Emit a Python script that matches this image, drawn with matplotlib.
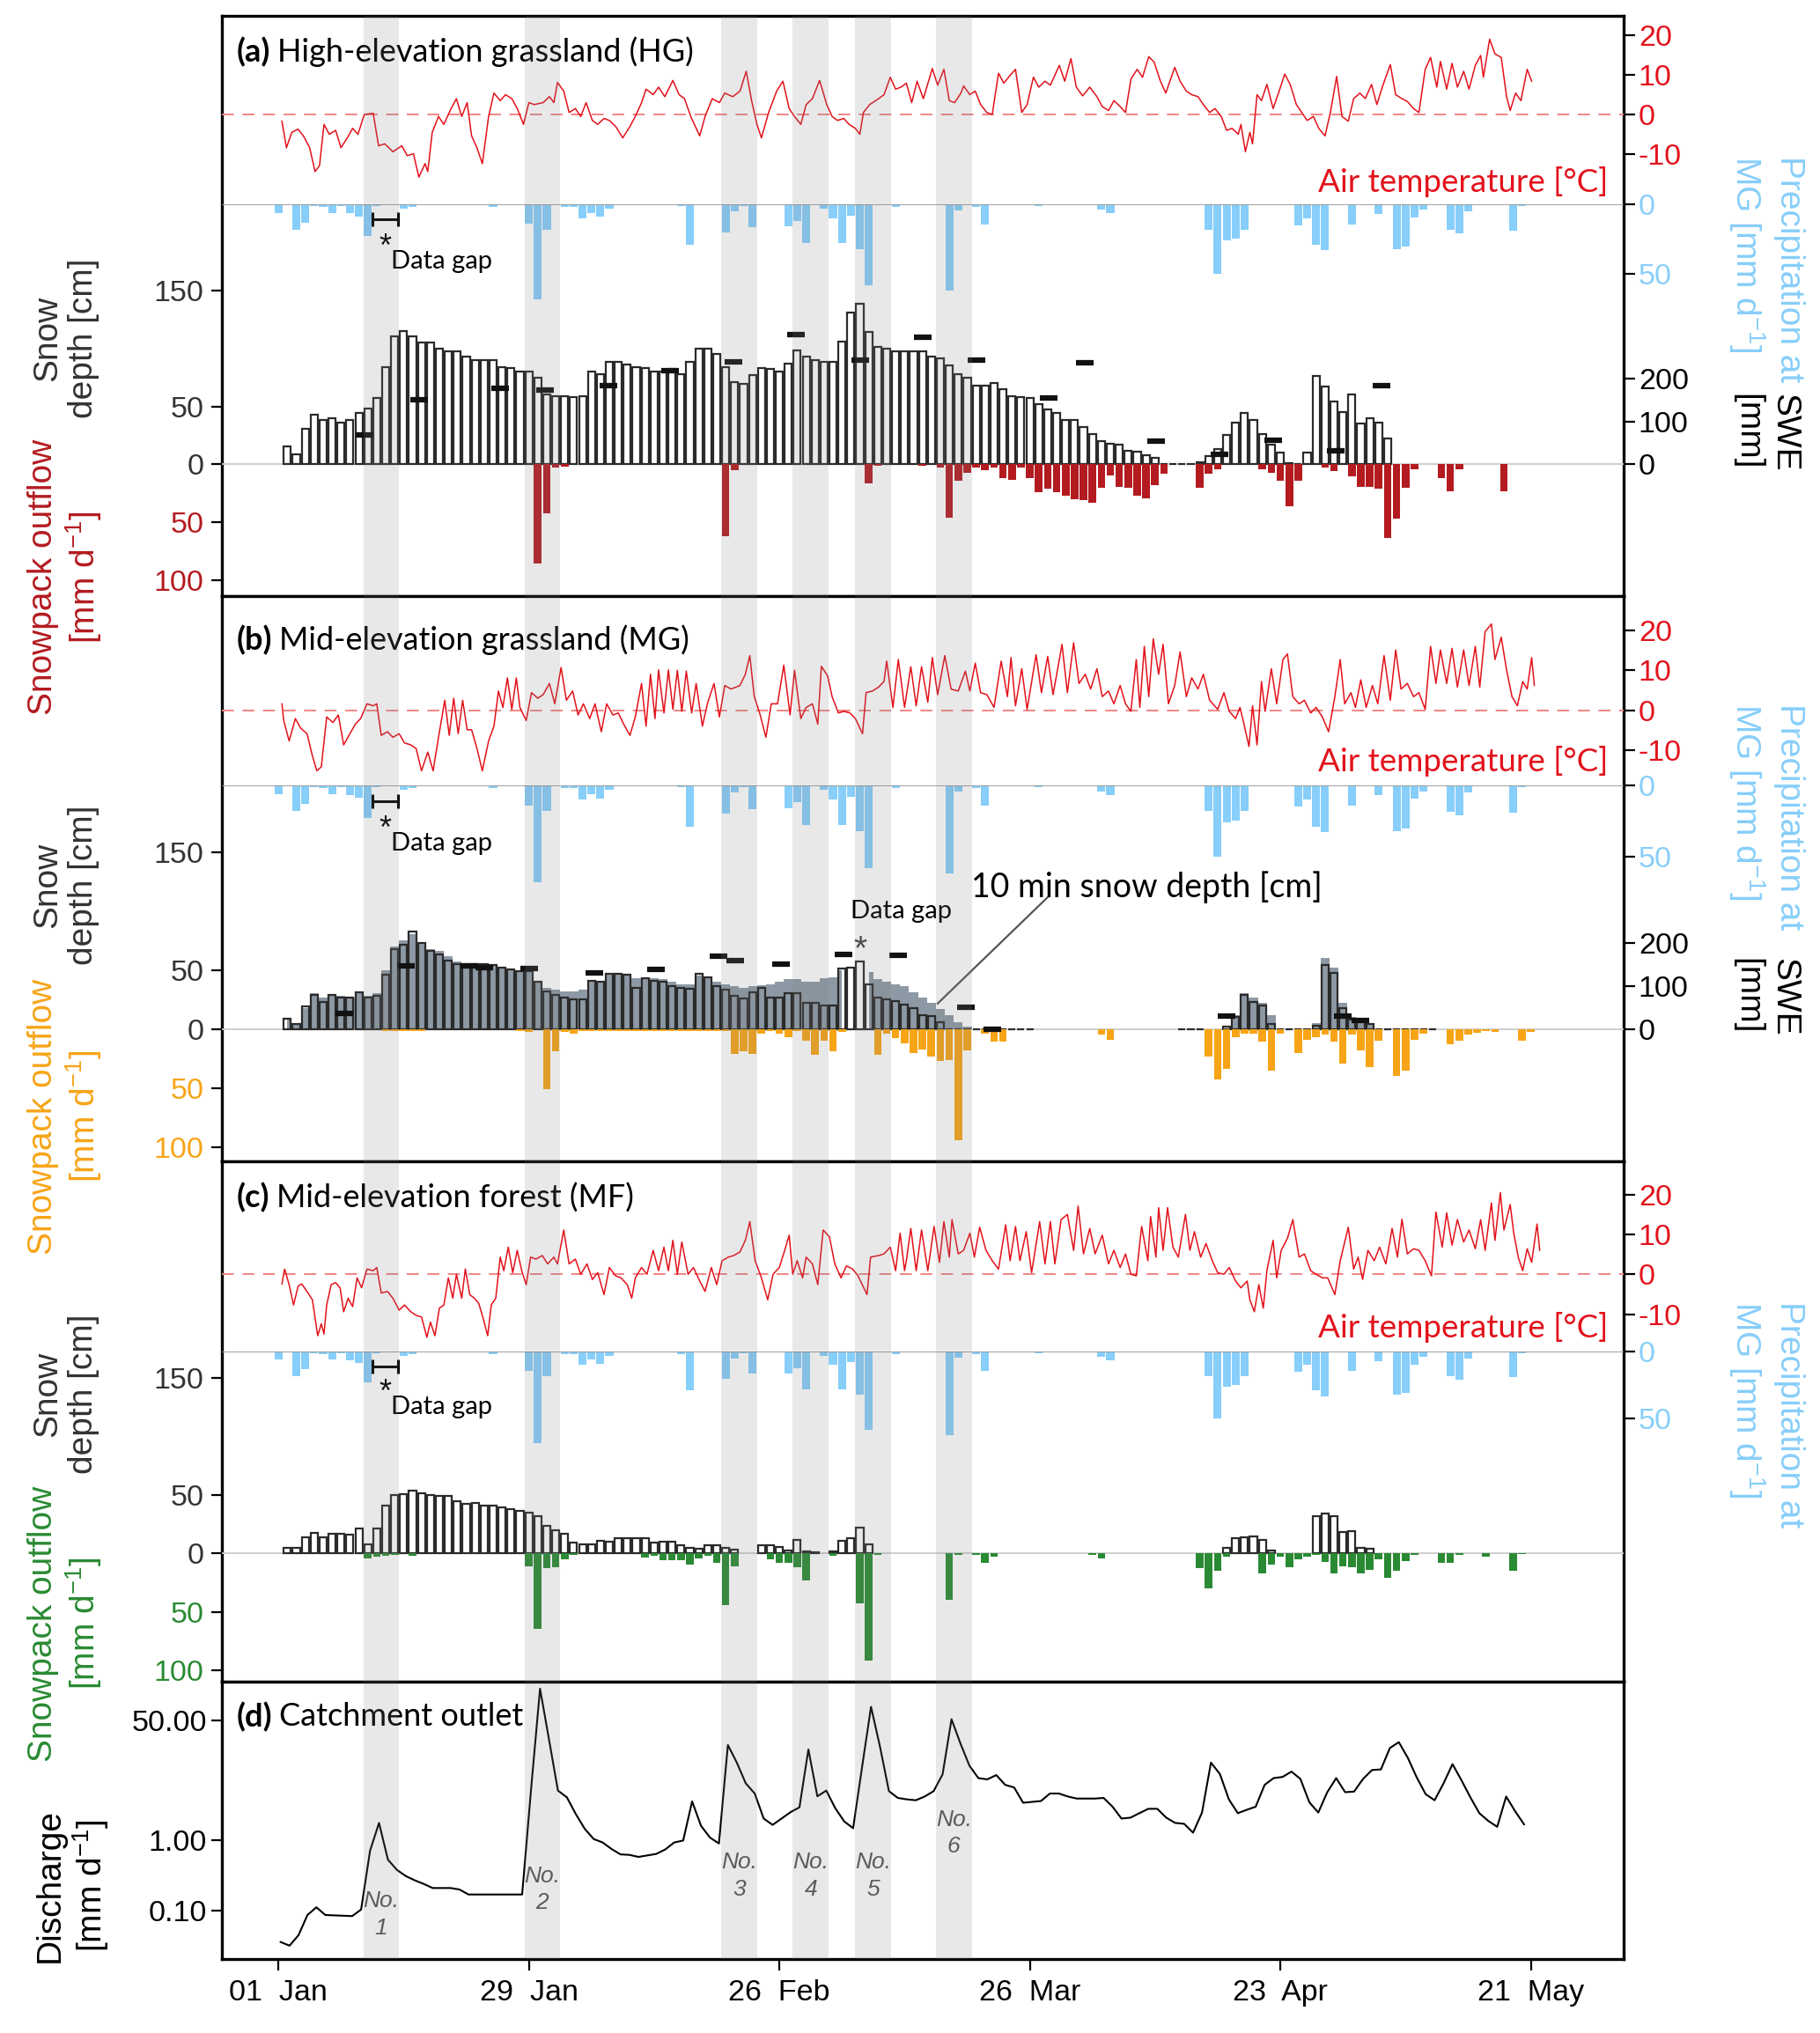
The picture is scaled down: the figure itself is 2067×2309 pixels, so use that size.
import numpy as np
import matplotlib
matplotlib.use("Agg")
import matplotlib.pyplot as plt

nan = float("nan")

# ---------------- data (day 0 = 01 Jan) ----------------
date_ticks = [0, 28, 56, 84, 112, 140]
date_labels = ["01  Jan", "29  Jan", "26  Feb", "26  Mar", "23  Apr", "21  May"]

event_start = [9.5, 27.5, 49.5, 57.5, 64.5, 73.5]
event_days = 4
event_names = ["No.\n1", "No.\n2", "No.\n3", "No.\n4", "No.\n5", "No.\n6"]
event_label_q = [0.088, 0.2, 0.31, 0.31, 0.31, 1.26]

# daily precipitation at MG [mm/d], first value = 31 Dec
precip_mg = [6, 0, 18, 13, 1, 2, 6, 1, 6.5, 8.5,
             23, 1, nan, nan, 3, 2, 0, 0, 0, 0,
             0, 0, 0, 0, 2, 0, 0, 0, 14, 68,
             18, 0, 2, 2, 10, 6, 9, 3, 0, 0,
             0, 0, 0, 0, 0, 1.5, 29, 0, 0, 0,
             20, 5, 1, 16.5, 0, 0, 0, 16, 12, 28,
             0, 3, 10, 28, 8, 32, 58, 0, 0, 2,
             0, 0, 0, 0, 0, 62, 4.5, 0, 2, 14.5,
             0, 0, 0, 0, 0, 1, 0, 0, 0, 0,
             0, 0, 4, 6.5, 0, 0, 0, 0, 0, 0,
             0, 0, 0, 0, 18, 50, 26, 24.5, 18, 0,
             0, 0, 0, 0, 15, 10, 29, 33, 0, 0,
             14.5, 0, 0, 7, 0, 32, 30.5, 9.5, 4, 0,
             0, 18.5, 21, 5, 0, 0, 0, 0, 19, 1]

# ---- (a) HG ----
temp_a_day = [0.4, 0.9, 1.5, 2.2, 2.8, 3.5, 4.1, 4.6, 5.1, 5.7, 6.4, 7.0, 7.7, 8.3, 8.9, 9.6, 10.6, 11.2, 11.9, 12.8,
              13.8, 14.4, 15.1, 15.7, 16.4, 16.7, 17.2, 17.9, 18.5, 19.2, 19.9, 20.5, 21.1, 21.6, 22.2, 22.8, 23.5, 24.1, 24.8, 25.4,
              26.1, 26.7, 27.4, 28.0, 28.6, 29.6, 30.3, 30.8, 31.2, 31.9, 32.5, 33.2, 33.8, 34.4, 35.1, 35.7, 36.4, 37.0, 37.7, 38.5,
              39.3, 39.9, 40.6, 41.1, 41.9, 42.5, 43.2, 44.1, 44.8, 45.4, 46.1, 47.1, 47.7, 48.5, 49.3, 49.9, 50.8, 51.6, 52.3, 52.9,
              53.5, 54.0, 54.8, 55.7, 56.4, 57.1, 57.7, 58.4, 59.0, 59.7, 60.5, 61.3, 61.9, 62.5, 63.2, 63.8, 64.5, 65.0, 65.4, 66.1,
              67.1, 67.7, 68.4, 69.0, 69.6, 70.2, 70.8, 71.4, 72.1, 73.1, 73.7, 74.4, 75.0, 75.6, 76.3, 76.6, 77.3, 77.9, 78.5, 79.2,
              79.8, 80.5, 81.1, 81.8, 82.4, 83.1, 83.7, 84.4, 85.0, 85.7, 86.3, 87.3, 87.9, 88.6, 89.2, 89.9, 90.7, 91.5, 92.1, 92.8,
              93.4, 94.1, 94.7, 95.3, 96.0, 96.6, 97.3, 97.9, 98.6, 99.2, 100.2, 100.8, 101.5, 102.1, 102.8, 103.4, 104.1, 104.7, 105.4, 106.0,
              106.6, 107.3, 107.6, 108.1, 108.6, 108.9, 109.4, 109.9, 110.5, 111.2, 111.8, 112.5, 113.1, 113.8, 114.4, 115.0, 115.7, 116.3, 117.0, 117.6,
              118.3, 118.9, 119.6, 120.2, 120.9, 121.5, 122.2, 122.8, 123.4, 124.3, 124.9, 125.6, 126.2, 126.9, 127.5, 128.2, 128.8, 129.5, 129.9, 130.6,
              131.2, 131.8, 132.5, 133.1, 133.8, 134.4, 134.7, 135.4, 136.0, 136.7, 137.3, 137.7, 138.3, 138.9, 139.6, 140.1]
temp_a = [-1.7, -8.4, -4.5, -3.7, -5.4, -8.4, -14.4, -12.9, -2.5, -5, -4, -8.4, -5.9, -3.5, -5, 0, 0.3, -7.9, -7.4, -9.4,
          -7.9, -10.4, -9.9, -15.8, -12.4, -14.4, -4.5, -0.5, -2.5, 1, 4, -0.5, 3, -5.4, -8.4, -12.4, -0.5, 5.4, 3.5, 5,
          4, 1.5, -2.5, 3, 2.5, 3, 4.5, 3, 8.1, 5.9, 0.5, 1.5, -0.5, 3, -1.5, -2.5, -1, -1.5, -3, -5.9,
          -3, -0.5, 3, 6.4, 5, 6.9, 4.5, 8.6, 5, 4, -0.5, -5.4, -0.5, 4, 3, 5.4, 4.5, 5.9, 10.9, 3.5,
          -2.5, -5.9, 0.5, 5.9, 8.4, 1.5, -0.5, -2.5, 2.5, 4, 8.6, 2.5, -0.5, -1.5, -1, -2.5, -3.5, -5, 0.5, 2.5,
          4, 5, 9.4, 6.4, 6.9, 7.9, 3, 8.4, 4, 11.6, 7.4, 11.4, 3.5, 3, 5.4, 7.2, 5, 5.9, 2.5, 0.5,
          0, 10.4, 7.9, 9.9, 11.4, 0.5, 2.5, 9.4, 6.9, 8.4, 7.4, 12.4, 8.4, 14.1, 6.9, 4.7, 6.9, 4.5, 2, 1,
          3.5, 2, 0.5, 8.9, 11.4, 9.4, 14.6, 13.2, 8.4, 5.4, 11.9, 8.4, 5.9, 5, 4.5, 2.5, 0.5, 1.5, -0.5, -4,
          -3.5, -5, -2.5, -9.4, -4.5, -7.4, 5, 3.5, 7.6, 1.5, 5.4, 10.2, 7.6, 2.5, 0.5, -1.5, -0.5, -3.5, -5.4, 0.5,
          9.6, -0.5, -1.7, 4, 5.4, 4, 7.6, 2.5, 6.9, 12.6, 5, 4, 3.3, 1.5, 0.5, 11.4, 14.4, 6.9, 13.4, 6.4,
          12.9, 6.9, 10.9, 6.4, 12.4, 14.9, 9.4, 19, 15.3, 14.4, 4.5, 1, 5.4, 3.5, 11.4, 8.4]

snow_a = [15.7, 9, 31, 43, 38.5, 40, 36, 38, 44.5, 48,
          57, 84, 110, 115, 110, 105, 105, 99.5, 97.5, 97.5,
          93, 90, 90, 90, 84, 83, 80, 80, 75, 60,
          59, 59, 58, 59, 80, 78, 88, 88, 86, 84,
          83, 80, 80, 82, 78, 88, 100, 100, 95, 84,
          71, 69, 77, 83, 82, 80, 87, 98, 93, 90,
          88, 88, 106, 131, 138, 114, 101, 100, 97, 97,
          97, 97, 93, 91, 85, 78, 75, 68, 68, 70,
          65, 59, 58, 57, 52, 47, 44, 38, 38, 32,
          26, 20, 18, 17, 12, 11, 8, 6, 0, 0,
          0, 0, 1.5, 7, 13, 25, 36, 44, 38, 26,
          17, 10, 1, 0, 10, 76, 67, 54, 45, 60,
          35, 40, 36, 22]

out_a_day = [28, 29, 30, 31, 49, 50, 65, 66, 71, 73, 74, 75, 76, 77, 78, 79, 80, 81, 82, 83,
             84, 85, 86, 87, 88, 89, 90, 91, 92, 93, 94, 95, 96, 97, 98, 102, 103, 104, 109, 110,
             111, 112, 113, 116, 117, 119, 120, 121, 122, 123, 124, 125, 126, 129, 130, 131, 136]
out_a = [85, 42, 3, 2, 62, 5, 16, 1, 1, 3, 46, 14, 7, 3, 5, 3, 12, 13, 3, 12,
         24, 21, 24, 27, 30, 30.5, 33, 20, 9.5, 19, 20, 27, 29, 18, 8, 20, 8, 4, 4, 7,
         14, 36, 14, 3, 6, 10, 19, 19, 21, 63, 47, 20, 4, 12, 23, 4, 23]

swe_a_day = [9.6, 15.7, 24.8, 29.8, 36.9, 43.8, 50.9, 57.9, 65.0, 72.0, 78.0, 86.1, 90.1, 98.1, 105.2, 111.2, 118.2, 123.3]
swe_a = [68, 151, 177, 174, 183, 218, 239, 303, 242, 296, 242, 155, 237, 55, 24, 57, 32, 183]

# ---- (b) MG ----
temp_b_day = [0.4, 0.6, 1.2, 1.9, 2.5, 3.2, 3.8, 4.3, 4.8, 5.4, 6.1, 6.7, 7.3, 8.0, 8.6, 9.2, 9.9, 10.6, 11.0, 11.5,
              12.2, 12.8, 13.5, 14.1, 14.8, 15.4, 16.0, 16.7, 17.3, 17.9, 18.6, 19.1, 19.6, 20.1, 20.6, 21.1, 21.6, 22.2, 22.8, 23.5,
              24.1, 24.6, 25.1, 25.6, 26.1, 26.6, 27.0, 27.7, 28.3, 29.0, 29.6, 30.3, 30.9, 31.6, 32.2, 32.9, 33.5, 34.1, 34.8, 35.4,
              36.1, 36.7, 37.4, 38.0, 38.6, 39.3, 39.9, 40.6, 41.1, 41.6, 42.1, 42.5, 43.1, 43.6, 44.1, 44.6, 45.1, 45.6, 46.2, 46.7,
              47.4, 48.0, 48.7, 49.3, 49.9, 50.6, 51.6, 52.2, 52.7, 53.2, 53.8, 54.5, 55.1, 55.8, 56.5, 57.2, 57.7, 58.4, 59.0, 59.7,
              60.3, 60.7, 61.4, 61.9, 62.6, 63.2, 63.9, 64.5, 65.3, 65.7, 66.4, 67.1, 67.7, 68.0, 68.7, 69.3, 70.0, 70.7, 71.3, 71.9,
              72.6, 73.1, 73.7, 74.5, 75.2, 76.0, 76.8, 77.3, 77.9, 78.5, 79.2, 80.0, 80.8, 81.5, 81.9, 82.4, 83.1, 83.7, 84.7, 85.3,
              86.0, 86.6, 87.6, 88.2, 88.9, 89.5, 90.2, 90.8, 91.5, 92.1, 92.8, 93.4, 94.1, 94.7, 95.3, 95.9, 96.3, 96.8, 97.3, 97.8,
              98.4, 98.9, 99.5, 100.2, 100.8, 101.5, 102.1, 102.8, 103.4, 104.1, 105.0, 105.7, 106.3, 107.0, 107.5, 107.9, 108.5, 108.9, 109.4, 109.9,
              110.3, 111.0, 111.6, 112.3, 112.8, 113.4, 114.1, 114.7, 115.4, 116.0, 116.7, 117.4, 118.1, 118.7, 119.2, 119.9, 120.4, 121.0, 121.6, 122.3,
              122.9, 123.6, 124.3, 124.9, 125.5, 126.2, 126.9, 127.5, 128.2, 128.8, 129.4, 129.9, 130.6, 131.2, 131.8, 132.5, 133.1, 133.8, 134.3, 134.9,
              135.6, 136.0, 136.7, 137.3, 137.9, 138.5, 139.1, 139.6, 140.1, 140.4]
temp_b = [1.6, -2.6, -7.7, -2.1, -4.5, -5.9, -11.4, -15.2, -14.2, -1.7, -3.1, -1.2, -8.7, -5.9, -3.5, -2.1, 1.6, 1.1, 1.6, -6.3,
          -5.4, -6.8, -5.9, -8.2, -8.7, -9.6, -15.2, -10.5, -15.2, -6.8, 2.5, -6.3, 3, -5.9, 2.5, -4.9, -4.9, -9.6, -15.2, -7.7,
          -4, 4.8, 0.7, 8.1, 0.2, 8.1, 0.7, -2.6, 4.4, 3, 3.9, 6.7, 1.6, 10.7, 2.5, 4.8, -1.2, 1.6, -2.1, 1.6,
          -5.4, 1.6, -1.2, -0.7, -3.5, -6.3, -1.7, 6.7, -4, 9, -2.1, 10.1, -0.7, 10.1, 0.2, 10, -0.3, 9.8, -0.7, 6.7,
          -4, 2, 6.7, -1.7, 6.2, 5.3, 6.2, 9, 13.7, 3.4, -0.7, -6.8, 1.6, 1.6, 11.3, -1.2, 10, -2.1, 0.7, 1.6,
          -3.5, 11, 8.6, 3.4, -0.7, -0.3, -0.7, -2.1, -5.9, 4.4, 4.8, 5.8, 7.2, 12.3, 0.7, 12.7, 0.7, 10.9, 1.1, 10.9,
          2, 13.2, 3.9, 13.7, 5.3, 4.8, 9.8, 4.8, 11.8, 4.4, 3.9, 0.7, 12.3, 3.4, 13.2, 1.1, 10.4, 0.2, 13.9, 4.4,
          13.5, 3.9, 16.5, 4.4, 16.9, 6.7, 9, 5.3, 10.4, 3.4, 4.8, 1.6, 6.2, 1.6, -0.3, 12.7, 0.7, 16, 3.4, 17.9,
          9, 16.5, 1.6, 6.2, 14.6, 3.4, 8.1, 5.3, 9, 2.5, 0.2, 4.4, -0.3, -2.1, 0.7, -3.1, -9.1, 1.1, -8.7, 7.2,
          -0.3, 10.4, 1.6, 12.7, 14.1, 3.4, 1.6, 2.5, -0.7, 0.7, -1.7, -5.4, 3.4, 12.7, 1.6, 4.4, 0.7, 7.6, 0.7, 6.2,
          1.6, 13.7, 2.5, 15.1, 5.3, 6.7, 3.4, 4.4, 0.2, 16, 6.7, 15.1, 6.7, 15.5, 5.8, 15.1, 6.2, 16, 5.8, 19.7,
          21.6, 12.7, 18.3, 10, 3.4, 1.1, 7.2, 5.3, 13.2, 6.2]

snow_b = [9, 4, 19, 29, 23, 29, 27, 27, 31, 27,
          28, 46, 68, 71, 82.5, 72.5, 66, 63, 58, 55,
          55, 55, 55, 54, 52, 50.6, 49, 49, 40, 32,
          29, 26.5, 25, 25, 41, 40, 46.5, 46.5, 46, 35,
          43.4, 41, 40, 36.6, 35, 34, 46.5, 44, 36.6, 33,
          28, 25.6, 31, 35, 27, 27, 30, 30, 22.5, 22.5,
          20, 20, 51.6, 52, 57, 38, 27, 25, 24, 21,
          18, 12, 11, 6, 0, 0, 0, 0, 0, 0,
          0, 0, 0, 0, nan, nan, nan, nan, nan, nan,
          nan, nan, nan, nan, nan, nan, nan, nan, nan, nan,
          0, 0, 0, nan, nan, 2, 10, 29, 23, 20,
          4, 0, 0, 0, 0, 3, 54, 47.5, 18, 8,
          8, 4, 0, 0, 0, 0, 0, 0, 0]

snow10_b = [8, 5, 18, 30, 27, 29, 28, 27, 30, 28,
            30, 50, 70, 75, 80, 72, 68, 66, 62, 57,
            55, 55, 55, 54, 52, 50, 50, 48, 40, 35,
            33, 32, 32, 33, 40, 40, 46, 47, 46, 43,
            44, 43, 42, 40, 38, 38, 45, 44, 40, 38,
            36, 35, 36, 37, 38, 40, 42, 42, 40, 40,
            43, 44, 50, nan, nan, 48, 42, 40, 38, 36,
            31, 27, 22, 17, 12, 6, 2, 0, 0, 0,
            0, 0, 0, 0, 0, 0, 0, 0, 0, 0,
            0, 0, 0, 0, 0, 0, 0, 0, 0, 0,
            0, 0, 0, 0, 0, 0, 12, 30, 27, 22,
            12, 0, 0, 0, 0, 5, 60, 52, 22, 10,
            8, 4, 0, 0, 0, 0, 0, 0, 0]

out_b_day = [11, 12, 13, 14, 15, 26, 27, 29, 30, 31, 32, 33, 34, 35, 36, 37, 38, 39, 40, 41,
             42, 43, 44, 45, 46, 47, 48, 49, 50, 51, 52, 53, 54, 55, 56, 57, 58, 59, 60, 61,
             62, 66, 67, 68, 69, 70, 71, 72, 73, 74, 75, 76, 78, 79, 80, 91, 92, 103, 104, 105,
             106, 107, 108, 109, 110, 111, 113, 114, 115, 116, 117, 118, 119, 120, 121, 122, 124, 125, 126, 127,
             130, 131, 132, 133, 134, 135, 138, 139]
out_b = [1.5, 1.5, 1.5, 1.5, 1.5, 2, 2.5, 51, 19, 2.5, 4, 2, 2, 2, 2, 2, 2, 2, 2, 2,
         2, 2, 2, 2, 2, 2, 2, 2, 21, 19, 21, 4, 2, 4, 7, 2, 10, 22, 10, 19,
         2.5, 22, 4, 8, 12, 20, 17, 23, 27, 26, 94, 18, 4, 11, 11, 5, 9, 23, 42.5, 34,
         7, 4, 4, 11, 35, 4, 20, 9, 7, 5, 11, 29, 5, 18, 32, 10, 40, 35, 9, 4,
         13, 10, 5, 3, 2, 2.5, 10, 2.5]

swe_b_day = [7.4, 14.3, 21.3, 23.0, 28.0, 35.3, 42.2, 49.2, 51.1, 56.2, 63.2, 69.3, 76.9, 79.8, 106.0, 119.0, 121.0]
swe_b = [36.5, 147, 147, 143, 141, 130, 139, 169, 160, 152, 174, 171, 50, 0, 30, 30, 19]

# ---- (c) MF ----
temp_c_day = [0.4, 0.7, 1.2, 1.7, 2.2, 2.6, 3.2, 3.8, 4.4, 4.8, 5.1, 5.4, 5.9, 6.4, 6.9, 7.3, 7.8, 8.3, 8.8, 9.3,
              9.9, 10.6, 11.0, 11.5, 12.2, 12.8, 13.5, 14.1, 14.8, 15.4, 16.0, 16.6, 17.0, 17.5, 18.0, 18.5, 19.0, 19.5, 19.9, 20.5,
              20.9, 21.4, 21.9, 22.4, 22.9, 23.4, 23.8, 24.3, 24.8, 25.2, 25.7, 26.2, 26.7, 27.2, 27.7, 28.2, 28.8, 29.5, 30.1, 30.8,
              31.2, 31.9, 32.5, 33.2, 33.8, 34.5, 35.1, 35.7, 36.4, 37.0, 37.7, 38.3, 39.0, 39.5, 39.9, 40.6, 41.2, 41.9, 42.5, 43.1,
              43.6, 44.1, 44.6, 45.1, 45.8, 46.4, 47.1, 47.7, 48.4, 49.0, 49.6, 50.3, 50.9, 51.6, 52.2, 52.7, 53.3, 54.0, 54.7, 55.3,
              56.0, 56.6, 57.1, 57.5, 58.0, 58.6, 59.0, 59.7, 60.3, 60.9, 61.6, 62.2, 62.9, 63.5, 64.2, 64.8, 65.8, 66.2, 67.1, 67.7,
              68.4, 69.0, 69.5, 70.0, 70.2, 70.7, 71.3, 71.9, 72.6, 73.3, 73.9, 74.4, 75.0, 75.3, 76.0, 76.6, 77.3, 77.8, 78.4, 79.1,
              79.8, 80.5, 81.3, 81.8, 82.4, 82.9, 83.6, 84.2, 85.1, 85.7, 86.3, 86.8, 87.5, 88.2, 88.9, 89.4, 90.0, 90.7, 91.3, 92.1,
              92.8, 93.4, 94.1, 94.7, 95.3, 95.9, 96.5, 97.2, 97.5, 98.1, 98.4, 98.9, 99.4, 100.0, 100.6, 101.4, 101.9, 102.4, 103.1, 103.7,
              104.4, 105.0, 105.7, 106.3, 107.0, 107.6, 108.3, 108.6, 109.1, 109.6, 110.1, 110.5, 111.2, 111.6, 112.1, 112.8, 113.4, 114.1, 114.7, 115.4,
              116.0, 116.7, 117.3, 118.1, 118.7, 119.6, 120.2, 120.7, 121.2, 121.8, 122.5, 123.1, 123.8, 124.5, 125.1, 125.6, 126.2, 126.9, 127.5, 128.2,
              128.9, 129.4, 130.1, 130.6, 131.2, 131.8, 132.5, 133.1, 133.8, 134.4, 134.9, 135.6, 136.0, 136.6, 137.0, 137.7, 138.1, 138.6, 139.1, 139.6,
              140.1, 140.7, 141.0]
temp_c = [-2.4, 1.3, -2.6, -7.7, -3, -2.4, -4.3, -6.4, -15.4, -12.4, -15, -7.7, -2.6, -2.1, -3.4, -9.4, -6, -8.1, -0.9, -3.4,
          1.3, 0.9, 1.7, -4.7, -4.3, -6, -9, -7.7, -9.4, -10.3, -10.7, -15.8, -12, -15.4, -8.5, -7.7, -0.9, -6, 0, -6,
          1.3, -5.1, -6, -7.3, -11.1, -15.4, -7.7, -6, 4.3, 0.9, 6.8, 0.4, 6, 0.9, -2.6, 4.3, 3.8, 4.7, 2.6, 4.3,
          2.6, 11.1, 2.6, 3.8, 0, 2.6, -1.3, 0.4, -5.1, 1.7, -0.4, -0.9, -2.6, -6, -0.9, 1.7, 0, 6, 0.9, 6.8,
          0.9, 8.5, 0, 8.1, 0, 1.7, -1.7, -4.3, 1.7, -2.6, 3.4, 4.3, 4.7, 5.6, 8.5, 13.2, 3.4, -0.9, -6.4, 0,
          1.7, 6, 9.8, 0, 3.4, -0.9, 4.3, 2.6, -2.6, 11.1, 9.4, 2.6, -0.9, 2.1, 1.3, -0.4, -5.1, 4.3, 4.7, 5.1,
          6.8, 0.9, 10.3, 0.9, 3.4, 11.5, 0.9, 11.1, 0.9, 12, 3, 13.2, 4.3, 13.7, 5.1, 6, 10.3, 4.3, 11.8, 6,
          3.4, 1.3, 12.4, 3.4, 12, 3.4, 10.7, 0.4, 13.2, 2.6, 13.2, 2.6, 13.7, 15, 6, 17.1, 5.1, 11.5, 5.1, 9.8,
          2.6, 6, 1.7, 5.1, 0, -0.4, 12, 3.4, 14.5, 4.3, 16.7, 6, 16.7, 6.8, 4.3, 15, 6, 10.7, 4.3, 7.7,
          3.4, 0.4, 0, 1.7, -1.7, -3.4, -1.7, -6.4, -9.4, -2.6, -8.5, 0.9, 8.5, -0.9, 6, 9, 13.7, 4.3, 5.1, 0.9,
          0, -0.9, -0.9, -5.1, 3.4, 11.8, 1.3, 4.3, -1.3, 6, 3.4, 6.8, 2.6, 11.5, 4.3, 13.8, 5.1, 6.4, 6, 3.4,
          -0.4, 15.6, 6.8, 15.4, 7.3, 13.7, 8.1, 11.1, 6.4, 13.7, 6, 17.9, 8.5, 20.5, 11.1, 17.5, 10.3, 4.3, 0.9, 6.4,
          3, 12.6, 6]

snow_c = [4.7, 4.7, 13.5, 17.5, 13.5, 17, 17, 16, 21, 8,
          21, 41, 50, 50.6, 54, 51.5, 50, 49, 49, 45,
          42, 43, 41, 41, 39, 38, 36.5, 35, 31.5, 23.7,
          20, 17, 9, 7.6, 7.6, 11, 10, 13, 13, 13,
          13, 9, 9.6, 10, 7.3, 4.7, 3.8, 6.7, 7.3, 4.4,
          2.9, nan, nan, 7.3, 6.7, 5.3, 2.3, 11.7, 1.5, 1,
          nan, 1.8, 11, 13, 22, 8, nan, nan, nan, nan,
          nan, nan, nan, nan, nan, nan, nan, nan, nan, nan,
          nan, nan, nan, nan, nan, nan, nan, nan, nan, nan,
          nan, nan, nan, nan, nan, nan, nan, nan, nan, nan,
          nan, nan, nan, nan, nan, 4.7, 13, 14, 14.6, 11.7,
          2.3, nan, nan, nan, nan, 32, 34, 32, 18, 19,
          4.7, 3.8]

out_c_day = [9, 10, 11, 12, 14, 27, 28, 29, 30, 31, 32, 40, 41, 42, 43, 44, 45, 46, 47, 48,
             49, 50, 54, 55, 56, 57, 58, 61, 64, 65, 66, 74, 75, 77, 78, 79, 90, 91, 102, 103,
             104, 105, 109, 110, 111, 112, 113, 114, 115, 116, 117, 118, 119, 120, 121, 122, 123, 124, 125, 126,
             129, 130, 131, 134, 137, 138]
out_c = [4.4, 3, 2, 1.5, 2, 11, 65, 13, 12, 5, 1.5, 3.5, 2, 6, 6, 6, 9.4, 4.4, 2, 8,
         44, 11, 5, 8, 8, 12, 23.5, 2, 43, 92, 1.5, 40, 1.5, 1, 8, 3, 1, 4.4, 13, 30,
         15, 2.6, 16.8, 10, 2.6, 11.7, 5, 2.6, 1, 7.4, 16.8, 11, 11.7, 16.8, 13.8, 5, 21, 15, 6.5, 1.5,
         8, 8, 1.5, 2.6, 14.7, 0.6]

# ---- (d) catchment outlet discharge [mm/d], daily from 01 Jan ----
q_outlet = [0.036, 0.032, 0.045, 0.087, 0.112, 0.087, 0.086, 0.085, 0.084, 0.104,
            0.71, 1.76, 0.53, 0.38, 0.31, 0.27, 0.24, 0.21, 0.21, 0.21,
            0.20, 0.17, 0.17, 0.17, 0.17, 0.17, 0.17, 0.17, 5.3, 141,
            27, 5.06, 4.06, 2.35, 1.45, 1.04, 0.93, 0.75, 0.63, 0.62,
            0.58, 0.61, 0.64, 0.74, 0.93, 0.99, 3.55, 1.6, 1.09, 0.90,
            22.4, 12.6, 6.4, 4.6, 2.03, 1.65, 2.03, 2.5, 2.93, 19.4,
            4.2, 5.06, 2.85, 1.85, 1.48, 10.9, 78, 21.3, 4.97, 3.98,
            3.8, 3.69, 4.17, 4.97, 8.6, 52, 23.5, 11.4, 7.6, 7.3,
            8.4, 6.1, 5.6, 3.4, 3.5, 3.6, 4.6, 4.6, 4.17, 3.9,
            3.9, 3.9, 3.98, 2.99, 2.03, 2.09, 2.42, 2.79, 2.79, 2.09,
            1.76, 1.71, 1.28, 2.47, 12.6, 8.7, 3.8, 2.42, 2.7, 2.99,
            6.1, 7.6, 7.9, 9.4, 7.4, 3.45, 2.47, 4.8, 7.6, 4.8,
            4.9, 7.4, 9.9, 10.1, 20.3, 24.6, 14.8, 7.8, 4.5, 3.69,
            6.4, 12.0, 7.1, 4.06, 2.42, 1.88, 1.55, 4.17, 2.58, 1.68]

# ---------------- style ----------------
RED = "#e3121b"
ZERO_RED = "#f08585"
BLUE = "#87cefa"
EDGE = "#2b2b2b"
SLATE = "#8d99a4"
DARK = "#333333"
LATO = ["Lato", "DejaVu Sans"]
plt.rcParams["font.family"] = ["Liberation Sans", "DejaVu Sans"]
TICK_FS = 24.5
LABEL_FS = 28

fig = plt.figure(figsize=(20.67, 23.09), dpi=100)

# layout measured on a 1410 x 1575 view of the reference
SW, SH = 1410.0, 1575.0


def fx(x):
    return x / SW


def fy(y):
    return 1.0 - y / SH


XL, XR = 172.0, 1258.0
XLIM = (-6.3, 150.4)


def add_ax(y_top, y_bot):
    ax = fig.add_axes([fx(XL), fy(y_bot), fx(XR) - fx(XL), fy(y_top) - fy(y_bot)])
    ax.set_xlim(*XLIM)
    ax.set_xticks([])
    return ax


def bare(ax):
    ax.patch.set_visible(False)
    for s in ax.spines.values():
        s.set_visible(False)


def yticks(ax, side, ticks, labels, colors):
    if side == "left":
        ax.yaxis.tick_left()
        pad = 6
    else:
        ax.yaxis.tick_right()
        pad = 3
    ax.set_yticks(ticks)
    ax.set_yticklabels(labels)
    ax.tick_params(axis="y", direction="out", length=9, width=1.6,
                   labelsize=TICK_FS, pad=pad, color="k")
    if isinstance(colors, str):
        colors = [colors] * len(ticks)
    for lab, c in zip(ax.get_yticklabels(), colors):
        lab.set_color(c)


def draw_panel(geo, letter, title, temp_day, temp, snow, out_day, out, out_color,
               swe_day=None, swe=None, snow10=None):
    top, sep, zero, bot = geo["top"], geo["sep"], geo["zero"], geo["bot"]

    frame = add_ax(top, bot)
    frame.set_yticks([])
    for s in frame.spines.values():
        s.set_linewidth(2.4)

    # air temperature
    axt = add_ax(top, sep)
    bare(axt)
    axt.set_ylim(-(sep - geo["tzero"]) / geo["tsc"], (geo["tzero"] - top) / geo["tsc"])
    axt.axhline(0, color=ZERO_RED, lw=1.4, ls=(0, (7, 5)))
    axt.plot(temp_day, temp, color=RED, lw=1.1)
    yticks(axt, "right", [-10, 0, 10, 20], ["-10", "0", "10", "20"], RED)

    # snow depth (up) and snowpack outflow (down)
    axs = add_ax(sep, bot)
    bare(axs)
    axs.set_ylim(-(bot - zero) / geo["ssc"], (zero - sep) / geo["ssc"])
    axs.axhline(0, color="0.8", lw=1.3, zorder=0)
    sd = np.array(snow, dtype=float)
    xs = np.arange(len(sd)) + 1
    ok = np.isfinite(sd)
    if snow10 is not None:
        s10 = np.array(snow10, dtype=float)
        axs.fill_between(np.arange(len(s10)) + 1, 0, s10, step="mid",
                         color=SLATE, lw=0, zorder=1)
        face = "none"
    else:
        face = "white"
    axs.bar(xs[ok], sd[ok], width=0.8, facecolor=face, edgecolor=EDGE, lw=1.6, zorder=2)
    axs.bar(np.array(out_day) + 1, -np.array(out), width=0.85, color=out_color, lw=0, zorder=2)
    yticks(axs, "left", [-100, -50, 0, 50, 150], ["100", "50", "0", "50", "150"],
           [out_color, out_color, DARK, DARK, DARK])

    # precipitation (hanging from the separator)
    axp = add_ax(sep, bot)
    bare(axp)
    axp.set_ylim((bot - sep) / geo["psc"], 0)
    pr = np.array(precip_mg, dtype=float)
    xp = np.arange(len(pr))
    okp = np.isfinite(pr)
    axp.bar(xp[okp], pr[okp], width=0.9, color=BLUE, lw=0)
    axp.axhline(0, color="0.6", lw=1.3)
    axp.errorbar([11.95], [11], xerr=[[1.45], [1.45]], fmt="none", ecolor="k",
                 elinewidth=2.2, capsize=6, capthick=2.2)
    axp.text(11.9, 31, "*", fontsize=26, ha="center", va="center")
    axp.text(12.6, 41, "Data gap", family=LATO, fontsize=21, va="center")
    yticks(axp, "right", [0, 50], ["0", "50"], BLUE)

    if swe is not None:
        axw = add_ax(sep, bot)
        bare(axw)
        axw.set_ylim(-(bot - zero) / geo["wsc"], (zero - sep) / geo["wsc"])
        axw.plot(swe_day, swe, ls="none", marker="_", ms=15, mew=4.5, color="#111111")
        yticks(axw, "right", [0, 100, 200], ["0", "100", "200"], "k")

    # titles and labels
    t = fig.text(fx(183), fy(geo["ty"]), letter, family=LATO, fontsize=26,
                 fontweight="bold", va="center")
    frame.annotate(title, xy=(1, 0.5), xycoords=t, xytext=(6, 0), textcoords="offset points",
                   va="center", family=LATO, fontsize=26, annotation_clip=False)
    fig.text(fx(1246), fy(geo["airy"]), "Air temperature [°C]", ha="right", va="center",
             color=RED, family=LATO, fontsize=26.5)
    fig.text(fx(51), fy(geo["snowy"]), "Snow\ndepth [cm]", rotation=90, ha="center",
             va="center", multialignment="center", color=DARK, fontsize=LABEL_FS, linespacing=1.15)
    fig.text(fx(51), fy(geo["outy"]), "Snowpack outflow\n[mm d$^{\\mathregular{-1}}$]",
             rotation=90, ha="center", va="center", multialignment="center",
             color=out_color, fontsize=LABEL_FS, linespacing=1.15)
    fig.text(fx(1368), fy(geo["precy"]), "Precipitation at\nMG [mm d$^{\\mathregular{-1}}$]",
             rotation=270, ha="center", va="top", multialignment="left",
             color=BLUE, fontsize=LABEL_FS, linespacing=1.2)
    if swe is not None:
        fig.text(fx(1368), fy(geo["swey"]), "SWE\n[mm]", rotation=270, ha="center",
                 va="top", multialignment="left", color="k", fontsize=LABEL_FS, linespacing=1.2)
    return axs


geo_a = dict(top=12, sep=158.3, zero=359.8, bot=462, tzero=88.7, tsc=3.07, ssc=0.9,
             psc=1.08, wsc=0.333, ty=40, airy=141, snowy=262, outy=447, precy=121, swey=305)
geo_b = dict(top=462, sep=608.5, zero=797.2, bot=900, tzero=550.2, tsc=3.09, ssc=0.915,
             psc=1.1, wsc=0.333, ty=496, airy=590, snowy=686, outy=865, precy=545, swey=742)
geo_c = dict(top=900, sep=1047.2, zero=1203.4, bot=1303, tzero=987.2, tsc=3.09, ssc=0.905,
             psc=1.04, wsc=None, ty=928, airy=1028, snowy=1080, outy=1258, precy=1008, swey=None)

draw_panel(geo_a, "(a)", "High-elevation grassland (HG)", temp_a_day, temp_a, snow_a,
           out_a_day, out_a, "#b31b20", swe_a_day, swe_a)
axs_b = draw_panel(geo_b, "(b)", "Mid-elevation grassland (MG)", temp_b_day, temp_b, snow_b,
                   out_b_day, out_b, "#f7a417", swe_b_day, swe_b, snow10=snow10_b)
draw_panel(geo_c, "(c)", "Mid-elevation forest (MF)", temp_c_day, temp_c, snow_c,
           out_c_day, out_c, "#2a8a33")

# extra annotations in (b)
axs_b.text(65.0, 67, "*", fontsize=28, ha="center", va="center", color="#444444")
axs_b.text(64.0, 100, "Data gap", family=LATO, fontsize=21, va="center")
axs_b.text(77.4, 120, "10 min snow depth [cm]", family=LATO, fontsize=27, va="center")
axs_b.plot([86.0, 73.7], [111.6, 21.6], color="#555555", lw=1.6)

# (d) catchment outlet
axd = add_ax(1303, 1518)
axd.set_yscale("log")
axd.set_ylim(0.0204, 176)
axd.plot(np.arange(len(q_outlet)) + 0.25, q_outlet, color="k", lw=1.5)
axd.set_yticks([0.1, 1, 50])
axd.set_yticklabels(["0.10", "1.00", "50.00"])
axd.yaxis.set_minor_locator(plt.NullLocator())
axd.set_xticks(date_ticks)
axd.set_xticklabels(date_labels)
axd.tick_params(axis="both", direction="out", length=9, width=1.6, labelsize=TICK_FS)
axd.tick_params(axis="x", pad=7)
for s in axd.spines.values():
    s.set_linewidth(2.4)
for s0, name, q in zip(event_start, event_names, event_label_q):
    axd.text(s0 + event_days / 2, q, name, ha="center", va="center", style="italic",
             color="#555555", fontsize=19, linespacing=1.35)
t = fig.text(fx(183), fy(1330), "(d)", family=LATO, fontsize=26, fontweight="bold", va="center")
axd.annotate("Catchment outlet", xy=(1, 0.5), xycoords=t, xytext=(6, 0),
             textcoords="offset points", va="center", family=LATO, fontsize=26,
             annotation_clip=False)
fig.text(fx(56), fy(1461), "Discharge\n[mm d$^{\\mathregular{-1}}$]", rotation=90, ha="center",
         va="center", multialignment="center", color="k", fontsize=LABEL_FS, linespacing=1.15)

# event bands across all panels
ov = fig.add_axes([fx(XL), fy(1518), fx(XR) - fx(XL), fy(12) - fy(1518)])
ov.set_zorder(5)
bare(ov)
ov.set_xlim(*XLIM)
ov.set_ylim(0, 1)
ov.set_xticks([])
ov.set_yticks([])
for s0 in event_start:
    ov.axvspan(s0, s0 + event_days, color="0.5", alpha=0.18, lw=0)

fig.savefig("out.png", dpi=100)
